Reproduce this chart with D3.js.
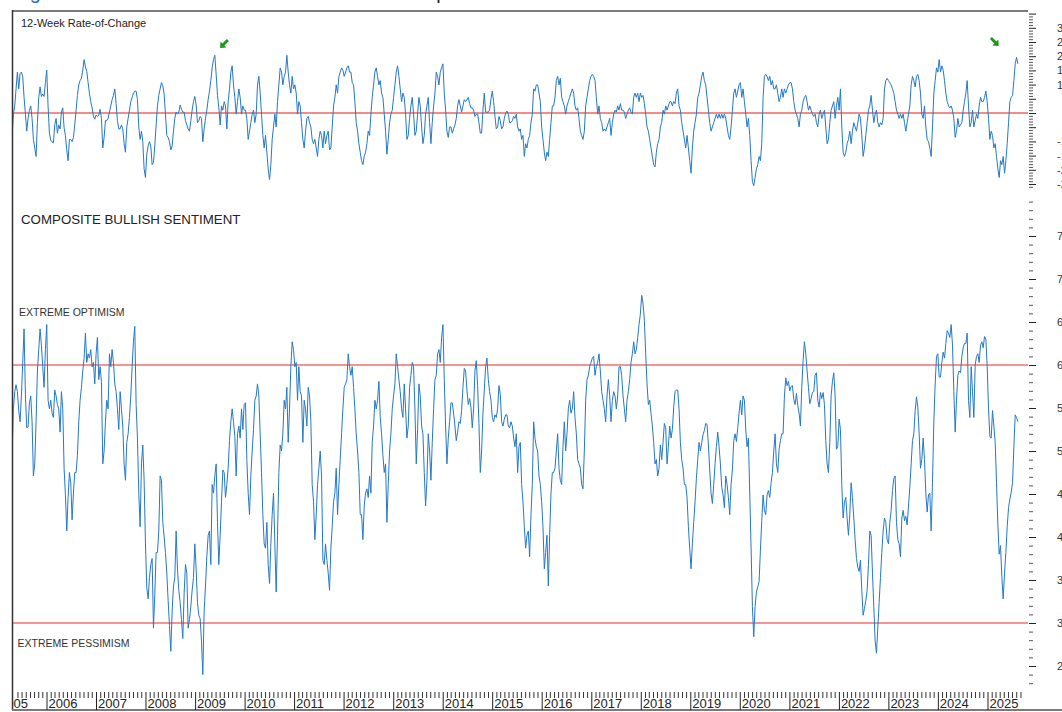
<!DOCTYPE html>
<html>
<head>
<script src="https://d3js.org/d3.v7.min.js"></script>
<style>
  body { margin: 0; background: #fff; }
  svg { display: block; font-family: "Liberation Sans", Arial, sans-serif; }
  .panelTitle { font-size: 11px; fill: #222; }
  .bigTitle { font-size: 13.3px; fill: #222; }
  .zoneLabel { font-size: 10.5px; fill: #333; }
  .yearAxis text { font-size: 13px; fill: #222; font-family: "Liberation Sans", Arial, sans-serif; }
  .rightAxis text { font-size: 11px; fill: #333; font-family: "Liberation Sans", Arial, sans-serif; }
  .refLine { fill: none; }
</style>
</head>
<body>
<script>
// composite bullish sentiment, sampled roughly every 10 days from Apr 2005 to Aug 2025
var sentiment = [
  49.3,54.9,56.9,57.7,56.9,54.7,53.4,56.4,60.3,64.2,56.6,52.7,52.8,55.6,56.4,53.4,47.1,48.5,53.4,59.3,
  61.8,64.2,62.3,59.8,57.4,61.8,64.7,55.9,54.9,55.9,54.4,53.9,57.1,56.4,55.4,54.9,52.2,56.9,54.9,48.0,
  44.9,40.7,44.6,47.5,46.3,42.0,45.1,47.5,47.5,49.5,53.4,55.9,57.4,59.3,60.8,63.7,60.3,61.3,60.8,61.8,
  59.8,60.3,57.8,61.3,63.2,58.3,59.8,58.1,48.5,50.0,53.4,55.9,54.9,61.3,59.8,61.8,60.3,57.8,56.9,54.9,
  52.5,56.9,54.9,52.9,48.5,46.6,51.0,52.0,53.9,56.4,59.8,62.7,64.5,55.4,51.5,45.1,41.2,48.5,50.7,46.6,
  39.2,34.1,32.8,35.3,36.8,37.5,29.4,33.3,38.2,38.2,40.7,47.1,46.6,41.7,40.0,38.2,35.8,32.6,29.7,26.7,
  31.4,34.3,35.3,40.7,36.3,33.8,32.4,30.4,28.2,33.5,36.8,35.8,29.4,30.4,31.9,33.8,35.3,39.2,36.3,32.4,
  30.9,30.5,27.9,24.0,31.4,34.3,37.7,40.2,40.7,36.8,46.1,45.1,47.1,48.5,41.7,36.8,40.2,44.1,47.8,47.5,
  44.6,46.1,48.0,51.2,53.4,54.9,53.4,51.7,47.1,52.0,52.9,51.5,54.9,52.5,55.4,55.6,49.0,45.1,42.6,47.1,
  50.0,52.5,55.9,56.4,57.8,56.4,52.0,47.5,42.6,39.2,38.7,41.7,36.8,34.6,39.2,42.6,45.1,39.2,33.6,40.2,
  47.5,50.7,50.0,52.0,55.9,54.9,57.4,51.0,54.9,59.8,62.7,61.8,59.8,60.3,55.9,59.8,56.9,56.4,51.0,55.9,
  54.9,52.9,57.4,56.4,53.4,46.1,44.1,39.7,42.6,46.1,48.0,50.0,47.1,37.3,36.8,39.2,37.3,35.8,33.8,38.7,
  41.2,44.1,45.1,48.0,42.6,46.1,49.0,52.0,54.9,57.4,57.8,58.3,61.3,59.8,58.8,59.8,57.4,54.9,52.0,50.0,
  47.5,42.6,42.6,39.7,43.6,45.1,45.6,44.6,47.1,45.1,51.0,52.9,55.9,54.9,55.9,58.1,53.9,52.0,49.5,47.5,
  48.5,41.7,46.1,50.0,52.0,54.9,56.4,57.8,61.3,59.8,58.3,56.9,54.9,53.9,57.8,54.9,51.5,52.9,57.4,58.8,
  60.3,59.8,54.9,48.5,52.5,57.8,56.4,52.9,52.0,47.5,43.6,46.6,52.0,50.0,46.6,51.0,54.9,58.3,58.8,61.3,
  61.8,60.3,63.2,64.7,58.3,52.9,48.5,51.5,53.4,55.6,55.6,54.4,52.9,51.2,52.2,53.4,53.2,54.7,57.4,59.6,
  59.3,57.1,55.4,56.1,55.1,52.7,54.9,59.3,60.5,57.6,53.2,47.5,50.0,54.4,57.1,59.8,60.8,58.3,56.9,55.9,
  53.9,53.4,54.2,53.9,54.9,57.6,56.6,53.4,52.9,53.7,54.2,54.2,52.9,52.7,53.4,52.9,51.5,
  50.5,52.0,47.5,50.5,51.0,46.1,44.1,41.2,38.7,40.2,40.7,37.7,42.6,46.1,53.4,51.5,50.5,50.0,47.1,46.1,
  44.1,41.2,36.3,38.2,40.2,34.3,40.2,45.1,47.5,47.5,48.0,50.0,52.0,48.0,46.6,46.1,50.5,53.4,50.0,52.0,
  54.9,55.9,54.4,54.9,56.9,53.9,52.0,49.0,48.5,48.0,46.1,45.6,50.0,55.9,58.3,58.8,59.8,60.3,60.8,61.0,
  58.8,59.8,60.3,61.3,59.3,56.9,55.9,54.9,53.4,56.4,58.3,56.4,53.4,55.9,56.9,56.4,54.9,56.4,59.8,59.8,
  58.8,56.4,54.9,53.4,55.9,56.9,58.3,60.3,61.3,62.7,61.3,61.8,63.2,64.7,65.9,68.1,67.2,65.2,61.3,57.8,
  55.4,55.9,54.4,52.9,51.0,48.5,49.0,47.1,48.0,50.7,49.0,51.0,53.2,52.7,48.5,50.5,52.9,51.5,52.5,55.1,
  56.9,57.1,57.1,54.9,51.0,49.0,48.0,46.1,46.1,44.6,41.2,38.7,36.3,39.2,41.7,44.1,46.8,49.0,51.0,50.0,
  51.0,51.9,52.4,53.2,53.1,50.7,47.8,45.1,43.9,46.1,48.5,50.5,52.2,50.5,48.5,45.8,44.9,43.4,47.1,46.1,
  44.6,42.6,46.1,47.8,51.2,52.0,51.1,52.7,54.4,55.9,54.2,56.4,55.9,52.5,50.5,51.5,45.1,38.7,31.9,28.4,
  31.9,33.6,34.2,34.8,38.5,41.9,44.9,43.1,42.6,44.9,45.4,44.6,46.3,47.5,50.0,52.0,48.5,47.5,50.2,51.2,
  52.0,52.0,56.4,58.5,57.6,58.1,57.0,57.5,57.6,56.0,55.4,56.7,55.3,54.4,52.9,57.4,60.5,62.7,61.3,59.3,
  57.4,55.5,56.1,56.8,56.9,58.8,59.1,55.9,55.1,56.8,56.1,56.8,55.4,51.2,48.5,47.5,51.0,56.4,58.1,59.1,
  56.4,50.2,50.5,53.7,52.5,46.1,42.2,44.1,44.6,42.2,40.2,42.6,46.3,44.6,42.2,39.7,37.5,36.5,36.0,37.3,
  33.8,30.9,31.7,32.6,33.8,36.8,40.7,40.2,35.8,31.9,27.9,26.5,29.4,32.4,35.3,38.2,40.7,42.2,41.7,39.7,
  39.2,41.7,43.1,45.4,46.8,47.1,41.7,39.7,39.2,37.7,42.2,43.1,41.9,42.4,41.4,43.6,45.8,48.5,51.2,52.0,
  54.7,56.3,55.1,52.0,48.0,49.0,51.5,49.0,45.1,42.9,44.9,45.1,40.7,46.3,53.4,57.8,61.0,61.3,58.6,58.6,
  60.3,61.5,60.8,62.5,64.0,63.7,63.2,64.7,62.3,56.9,52.2,55.9,58.8,59.3,59.1,61.0,62.0,62.5,62.5,63.7,
  55.9,53.9,59.8,56.9,53.9,60.0,61.0,61.3,60.3,62.3,62.7,62.0,63.3,63.0,59.8,54.9,51.7,51.5,54.7,52.9,
  51.0,46.3,41.4,38.0,39.0,35.3,32.8,35.8,38.2,41.2,43.4,44.4,45.2,46.3,50.5,54.2,53.9,53.4
];

// 12-week rate-of-change of the composite, same sample dates
var roc = [
  -8.6,-0.4,2.5,8.5,14.4,8.5,13.9,14.4,12.9,5.5,-0.4,-6.4,-1.9,1.0,2.5,-1.9,-9.3,-12.3,-15.3,-3.4,
  5.5,9.2,5.8,6.7,5.8,10.7,15.1,2.5,-7.1,-9.6,-10.2,-10.5,-4.2,-1.9,-7.1,-4.2,-5.6,0.3,1.8,-5.2,
  -7.9,-13.0,-16.8,-9.3,-9.3,-10.1,-8.6,-4.2,1.0,6.2,9.9,11.4,12.2,15.1,18.8,16.2,14.7,10.7,7.0,4.0,
  1.8,-1.2,-2.2,-0.7,-1.2,-0.7,1.3,-1.9,-12.3,-8.6,-2.7,-2.7,-1.9,0.3,2.5,4.7,6.2,8.5,3.3,-2.7,
  -5.6,-5.6,-4.2,-5.6,-10.8,-13.8,-4.9,-1.9,1.0,4.0,5.5,7.0,7.7,7.7,4.7,-4.9,-9.3,-6.4,-10.1,-19.7,
  -22.7,-14.5,-11.6,-10.1,-11.6,-18.2,-17.5,-11.6,-4.2,2.5,6.2,8.5,10.7,9.6,6.7,-0.4,-7.9,-8.6,-10.1,-13.0,
  -11.6,-6.4,-1.9,0.3,-0.4,0.3,2.8,1.3,0.3,0.3,-2.7,-4.2,-5.6,-6.4,-2.7,1.0,4.0,5.8,2.8,-3.4,
  -2.7,-1.2,-1.9,-10.1,-5.6,-1.9,1.0,4.7,7.7,11.4,15.9,18.8,20.3,13.6,6.2,1.8,-4.2,2.5,1.0,4.0,
  2.5,-5.6,4.0,8.5,14.4,16.6,9.9,5.5,-0.4,4.0,8.5,5.5,-0.4,2.5,1.0,1.0,-1.9,-9.3,-6.4,-3.4,
  -0.4,1.0,-3.4,-0.4,9.9,12.9,7.0,-0.4,-7.9,-12.3,-7.9,-13.8,-19.7,-23.4,-18.2,-9.3,-4.9,-0.4,-4.9,4.0,
  9.9,15.9,14.4,9.9,12.9,14.4,20.3,14.4,9.9,7.0,12.9,8.5,9.9,7.0,-0.4,4.0,2.5,-3.4,-9.3,-12.3,
  -6.4,-1.9,-1.2,-3.4,-4.9,-9.3,-10.8,-9.3,-12.3,-15.3,-9.3,-6.4,-7.9,-12.3,-6.4,-10.8,-7.9,-6.4,-13.0,-12.3,
  -4.9,2.5,5.5,9.9,7.0,12.9,14.4,15.9,15.1,12.9,14.4,15.9,16.6,14.4,14.4,10.7,9.9,4.0,-3.4,-6.4,
  -10.8,-13.8,-16.8,-18.2,-15.3,-13.8,-10.8,-6.4,-7.9,-0.4,5.5,9.9,14.4,15.9,12.9,9.9,11.4,7.0,5.5,-0.4,
  -6.4,-14.5,-9.3,-3.4,-0.4,1.0,5.5,9.9,14.4,16.6,12.9,8.5,4.0,7.0,5.5,-0.4,-9.3,-7.9,-1.9,2.5,
  5.5,-0.4,-7.9,-6.4,-0.4,5.5,2.5,-4.9,-10.8,-7.9,-0.4,2.5,5.5,-3.4,-10.8,-3.4,2.5,7.0,14.4,12.9,
  9.9,14.4,15.9,17.3,7.0,1.0,-6.4,-8.6,-4.9,-4.9,-7.1,-5.6,-4.2,-1.9,2.5,4.7,2.5,0.3,2.5,4.7,
  4.0,4.7,5.5,3.3,1.8,1.8,1.0,-1.2,-0.4,-0.4,-3.4,-7.1,-7.1,1.0,7.0,0.3,0.3,0.3,1.0,5.0,
  7.7,4.0,-1.2,-5.6,-4.9,-1.2,-2.7,-5.6,-4.9,-1.9,-0.1,0.7,-0.4,-3.4,-3.4,-2.7,-1.2,
  -1.9,-0.4,-4.9,-6.4,-5.6,-9.3,-7.9,-15.3,-10.8,-12.3,-9.3,-7.9,-3.4,-0.4,8.5,7.7,9.9,9.9,7.0,4.0,
  -4.9,-9.3,-13.8,-16.8,-13.8,-15.3,-9.3,-3.4,2.5,2.5,5.5,11.4,12.9,9.9,12.2,5.5,4.0,2.5,-0.4,2.5,
  4.0,5.5,7.0,8.5,7.0,2.5,1.0,1.8,-1.9,-6.4,-7.9,-9.3,-6.4,2.5,5.5,8.5,11.4,12.9,13.6,12.9,
  11.4,5.5,-0.4,2.5,-1.9,-3.4,-6.4,-5.6,-6.4,-4.9,-3.4,-1.9,-7.9,-3.4,-0.4,1.0,0.3,2.5,1.0,3.3,
  1.0,1.0,0.3,-1.9,-0.4,1.0,1.8,0.3,-0.4,5.5,7.0,5.5,7.0,4.0,7.0,5.5,6.2,3.3,-0.4,-4.9,
  -6.4,-9.3,-12.3,-15.3,-18.2,-19.0,-13.8,-10.8,-9.3,-4.9,-3.4,1.0,-0.4,2.5,1.0,2.5,4.0,4.0,2.5,4.0,
  3.3,7.0,8.5,2.5,1.0,-3.4,-6.4,-9.3,-12.3,-7.9,-12.3,-16.8,-21.2,-12.3,-6.4,-3.4,-0.4,5.5,7.0,9.9,
  12.9,14.4,11.4,9.9,5.5,1.0,-3.4,-6.4,-4.9,-3.4,-1.9,-0.4,-1.9,-0.4,-1.9,-0.4,-1.9,-0.4,-1.9,-4.9,
  -7.9,-9.3,-4.9,1.0,7.0,8.5,5.5,7.7,9.9,10.7,5.5,8.5,4.0,-0.4,-4.9,-1.9,-7.9,-16.8,-24.2,-25.6,
  -22.7,-19.7,-18.2,-15.3,-16.8,-10.8,5.5,12.9,13.6,12.9,11.4,12.9,9.9,11.4,8.5,8.5,9.9,7.0,4.0,5.5,
  8.5,5.5,8.5,7.0,8.5,9.9,10.7,10.7,8.5,4.0,1.0,-0.4,-1.9,-4.9,-0.4,1.0,4.0,5.5,6.2,4.0,
  1.0,2.5,1.0,-0.4,-1.2,-0.4,-3.4,-4.9,-0.4,1.0,-1.9,-0.4,1.0,-4.9,-10.8,-9.3,-3.4,1.0,2.5,4.0,
  -1.9,2.5,5.5,1.0,8.5,-4.9,-13.8,-15.3,-13.8,-10.8,-9.3,-6.4,-10.8,-6.4,-3.4,-4.9,-6.4,-3.4,-0.4,-1.9,
  -7.9,-15.3,-12.3,-7.9,-3.4,1.0,2.5,6.2,1.0,-3.4,-0.4,1.0,-3.4,-4.9,-3.4,-4.2,-1.9,8.5,11.4,12.2,
  11.4,10.7,9.9,8.5,7.0,4.0,1.0,-0.4,-1.9,-0.4,-1.9,-0.4,-3.4,-6.4,-3.4,-0.4,2.5,9.9,12.9,11.4,
  9.2,12.9,13.6,11.4,7.0,-0.4,-1.9,2.5,-4.9,-9.3,-10.1,-12.3,-15.3,-4.9,7.0,11.4,15.9,14.4,18.8,14.4,
  16.6,15.1,11.4,7.0,4.0,2.5,1.8,2.5,1.0,-1.9,-8.6,-6.4,-1.9,-4.9,-4.2,-3.4,1.0,4.0,7.0,11.4,
  2.5,-4.9,-3.4,1.0,-4.9,-2.7,-0.4,-1.9,2.5,5.5,4.0,4.0,5.5,7.7,4.0,-1.9,-9.3,-6.4,-7.9,-12.3,
  -10.8,-15.3,-19.7,-22.7,-16.8,-18.2,-15.3,-21.2,-16.8,-10.8,-3.4,4.0,5.5,6.2,11.4,17.3,19.6,17.3
];

var firstSample = new Date(2005, 3, 22),
    lastSample = new Date(2025, 7, 13);

var optimismLevel = 60, pessimismLevel = 30, rocZero = 0;
var rocLabels = [30, 25, 20, 15, 10, -10, -15, -20, -25];
var sentLabels = [75, 70, 65, 60, 55, 50, 45, 40, 35, 30, 25];
var arrowMarks = [
  {date: new Date(2009, 7, 2), value: 24.3, angle: 135},
  {date: new Date(2025, 1, 24), value: 25, angle: 45}
];

var svgWidth = 1062, svgHeight = 712;
var plot = {left: 12, right: 1028, top: 11, bottom: 710};

var svg = d3.select("body")
    .append("svg")
    .attr("width", svgWidth)
    .attr("height", svgHeight);

var n = sentiment.length;
var dates = d3.range(n).map(function(i) {
  return new Date(+firstSample + (lastSample - firstSample) * i / (n - 1));
});

var x = d3.scaleTime()
    .domain([new Date(2006, 0, 1), new Date(2025, 0, 1)])
    .range([46.5, 987.5]);
var yRoc = d3.scaleLinear().domain([-25, 25]).range([184, 42]);
var ySent = d3.scaleLinear().domain([30, 60]).range([623, 365]);

svg.append("defs").append("clipPath")
    .attr("id", "plotClip")
  .append("rect")
    .attr("x", plot.left + 1)
    .attr("y", plot.top)
    .attr("width", plot.right - plot.left - 1)
    .attr("height", plot.bottom - plot.top);

// cropped page title above the chart, only descenders show
svg.append("text")
    .text("Figure 1:")
    .attr("x", 13).attr("y", -1)
    .style("font-size", "20px")
    .style("fill", "#1f6fc0");
svg.append("text")
    .text("Composite")
    .attr("x", 394).attr("y", -1)
    .style("font-size", "20px")
    .style("fill", "#222");

// frame
svg.append("line")
    .attr("x1", plot.left).attr("x2", plot.right)
    .attr("y1", plot.top).attr("y2", plot.top)
    .attr("stroke", "#7a7a7a").attr("stroke-width", 2);
svg.append("line")
    .attr("x1", plot.left + 0.5).attr("x2", plot.left + 0.5)
    .attr("y1", plot.top - 1).attr("y2", plot.bottom)
    .attr("stroke", "#333").attr("stroke-width", 1.5);
svg.append("line")
    .attr("x1", plot.left).attr("x2", svgWidth)
    .attr("y1", plot.bottom).attr("y2", plot.bottom)
    .attr("stroke", "#7a7a7a").attr("stroke-width", 2);

// reference lines
var refLevels = [
  {scale: yRoc, value: rocZero, width: 1.4, color: "#f06565"},
  {scale: ySent, value: optimismLevel, width: 1.2, color: "#ee2a2a"},
  {scale: ySent, value: pessimismLevel, width: 1.2, color: "#ee2a2a"}
];
svg.selectAll(".refLine")
    .data(refLevels)
    .enter()
    .append("line")
    .attr("class", "refLine")
    .attr("x1", plot.left + 1).attr("x2", plot.right)
    .attr("y1", function(d) { return d.scale(d.value); })
    .attr("y2", function(d) { return d.scale(d.value); })
    .attr("stroke", function(d) { return d.color; })
    .attr("stroke-width", function(d) { return d.width; });

var chart = svg.append("g").attr("clip-path", "url(#plotClip)");

var rocLine = d3.line()
    .x(function(d, i) { return x(dates[i]); })
    .y(function(d) { return yRoc(d); });
var sentLine = d3.line()
    .x(function(d, i) { return x(dates[i]); })
    .y(function(d) { return ySent(d); });

chart.append("path")
    .datum(roc)
    .attr("d", rocLine)
    .attr("fill", "none")
    .attr("stroke", "#2479c6")
    .attr("stroke-width", 1)
    .attr("stroke-linejoin", "round");
chart.append("path")
    .datum(sentiment)
    .attr("d", sentLine)
    .attr("fill", "none")
    .attr("stroke", "#2479c6")
    .attr("stroke-width", 1)
    .attr("stroke-linejoin", "round");

// green arrows
svg.selectAll(".arrow")
    .data(arrowMarks)
    .enter()
    .append("path")
    .attr("class", "arrow")
    .attr("d", "M-5.5,-1.4 L0.8,-1.4 L0.8,-4.2 L5.5,0 L0.8,4.2 L0.8,1.4 L-5.5,1.4 Z")
    .attr("transform", function(d) {
      return "translate(" + x(d.date) + "," + yRoc(d.value) + ") rotate(" + d.angle + ")";
    })
    .attr("fill", "#1b961b");

// texts
svg.append("text").text("12-Week Rate-of-Change")
    .attr("class", "panelTitle").attr("x", 21).attr("y", 27);
svg.append("text").text("COMPOSITE BULLISH SENTIMENT")
    .attr("class", "bigTitle").attr("x", 21).attr("y", 224);
svg.append("text").text("EXTREME OPTIMISM")
    .attr("class", "zoneLabel").attr("x", 19).attr("y", 316);
svg.append("text").text("EXTREME PESSIMISM")
    .attr("class", "zoneLabel").attr("x", 17.5).attr("y", 646.5);

// right axes
var axisX = plot.right + 1;
function rightAxis(scale, values, size, labels) {
  var ax = d3.axisRight(scale)
      .tickValues(values)
      .tickSize(size)
      .tickPadding(labels ? 28 - size : 2)
      .tickFormat(function(v) { return labels && labels.indexOf(v) >= 0 ? v : ""; });
  var g = svg.append("g")
      .attr("class", "rightAxis")
      .attr("transform", "translate(" + axisX + ",0)")
      .call(ax);
  g.select(".domain").remove();
  g.selectAll(".tick line").attr("stroke", labels ? "#222" : "#555");
  return g;
}
rightAxis(yRoc, d3.range(-26, 36).filter(function(v) { return v % 5 !== 0; }), 4, null);
rightAxis(yRoc, d3.range(-25, 36, 5), 7, rocLabels);
rightAxis(ySent, d3.range(23, 80).filter(function(v) { return v % 5 !== 0; }), 4, null);
rightAxis(ySent, d3.range(25, 80, 5), 7, sentLabels);

// bottom time axis
var months = d3.timeMonth.range(new Date(2005, 3, 1), new Date(2025, 9, 1))
    .filter(function(d) { return d.getMonth() !== 0; })
    .filter(function(d) { return x(d) > plot.left + 2 && x(d) < plot.right - 1; });
var years = d3.timeYear.range(new Date(2005, 0, 1), new Date(2026, 0, 1));

var axisY = 692;
var timeAxis = svg.append("g").attr("clip-path", "url(#plotClip)");

var monthAxis = timeAxis.append("g")
    .attr("transform", "translate(0," + axisY + ")")
    .call(d3.axisBottom(x).tickValues(months).tickSize(6).tickFormat(""));
monthAxis.select(".domain").remove();
monthAxis.selectAll(".tick line").attr("stroke", "#333");

var yearAxis = timeAxis.append("g")
    .attr("class", "yearAxis")
    .attr("transform", "translate(0," + axisY + ")")
    .call(d3.axisBottom(x).tickValues(years).tickSize(18).tickFormat(d3.timeFormat("%Y")));
yearAxis.select(".domain").remove();
yearAxis.selectAll(".tick line").attr("stroke", "#222");
yearAxis.selectAll("text")
    .attr("text-anchor", "start")
    .attr("x", 1.5)
    .attr("y", 16)
    .attr("dy", 0);
</script>
</body>
</html>
